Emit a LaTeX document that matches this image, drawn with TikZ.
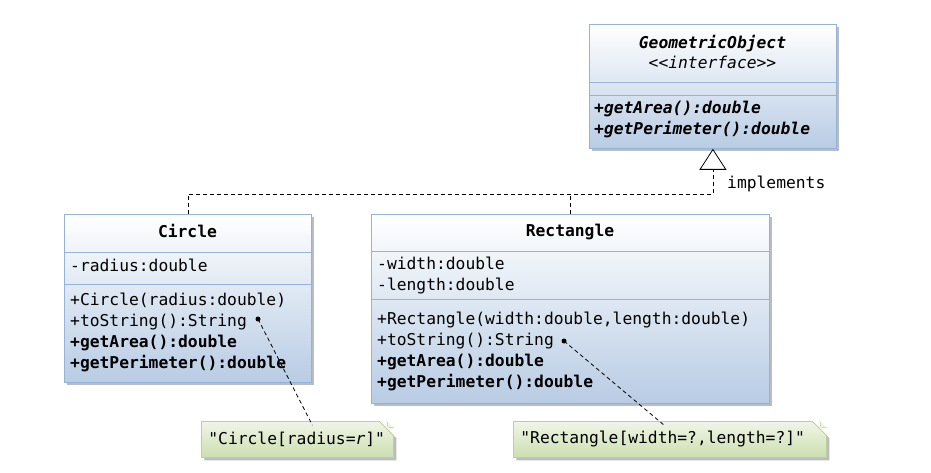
\documentclass[tikz,border=0pt]{standalone}
\usepackage{fontspec}
\setmonofont{DejaVu Sans Mono}
\usepackage{tikz}
\usetikzlibrary{arrows.meta,calc,positioning,shadows,shapes.misc}
\definecolor{umlborder}{RGB}{149,179,215}
\definecolor{umlblue}{RGB}{184,204,228}
\definecolor{umlshadow}{RGB}{168,172,180}
\definecolor{notetop}{RGB}{240,245,230}
\definecolor{notebottom}{RGB}{205,222,176}
\definecolor{noteborder}{RGB}{190,208,150}
\def\UMLFont{\ttfamily\fontsize{16.3}{21}\selectfont}
\tikzset{
  classbox/.style={draw=umlborder, line width=0.8pt, top color=white,
    bottom color=umlblue, anchor=north west, inner sep=0pt,
    drop shadow={shadow xshift=3pt, shadow yshift=-3pt, fill=umlshadow, opacity=0.8}},
  sepline/.style={draw=umlborder, line width=0.8pt},
  cname/.style={anchor=base, inner sep=0pt, font=\UMLFont\bfseries},
  member/.style={anchor=base west, inner sep=0pt, font=\UMLFont},
  notebox/.style={chamfered rectangle, chamfered rectangle corners=north east,
    chamfered rectangle xsep=7pt, chamfered rectangle ysep=7pt,
    draw=noteborder, line width=0.8pt, top color=notetop, bottom color=notebottom,
    anchor=north west, inner xsep=0pt, inner ysep=0pt, align=left, font=\UMLFont,
    drop shadow={shadow xshift=3pt, shadow yshift=-3pt, fill=umlshadow, opacity=0.8}},
  realize/.style={line width=0.8pt, dash pattern=on 4pt off 3pt},
  notelink/.style={line width=0.8pt, dash pattern=on 4pt off 3pt},
}

\begin{document}
\begin{tikzpicture}[x=1pt, y=-1pt]
  \useasboundingbox[fill=white] (0,0) rectangle (931,473);

  % interface
  \node[classbox, minimum width=247pt, minimum height=124pt] (geomobj) at (589,24) {};
  \draw[sepline] ($(geomobj.north west)+(0,58)$) -- ($(geomobj.north east)+(0,58)$);
  \draw[sepline] ($(geomobj.north west)+(0,71)$) -- ($(geomobj.north east)+(0,71)$);
  \node[cname] (geomname) at (712.5,48.5) {\itshape GeometricObject};
  \node[cname, font=\UMLFont\itshape] (geomstereo) at (712.5,69) {<<interface>>};
  \node[member, font=\UMLFont\bfseries\itshape] (geomarea) at (594,114) {+getArea():double};
  \node[member, font=\UMLFont\bfseries\itshape] (geomperim) at (594,135) {+getPerimeter():double};

  % Circle
  \node[classbox, minimum width=247pt, minimum height=168pt] (circle) at (64,214) {};
  \draw[sepline] ($(circle.north west)+(0,38)$) -- ($(circle.north east)+(0,38)$);
  \draw[sepline] ($(circle.north west)+(0,70)$) -- ($(circle.north east)+(0,70)$);
  \node[cname] (circname) at (187.5,237) {Circle};
  \node[member] (circradius) at (70,271) {-radius:double};
  \node[member] (circctor) at (70,305.5) {+Circle(radius:double)};
  \node[member] (circtostr) at (70,326.5) {+toString():String};
  \node[member, font=\UMLFont\bfseries] (circarea) at (70,347) {+getArea():double};
  \node[member, font=\UMLFont\bfseries] (circperim) at (70,368) {+getPerimeter():double};

  % Rectangle
  \node[classbox, minimum width=398pt, minimum height=189pt] (rect) at (371,214) {};
  \draw[sepline] ($(rect.north west)+(0,37)$) -- ($(rect.north east)+(0,37)$);
  \draw[sepline] ($(rect.north west)+(0,85)$) -- ($(rect.north east)+(0,85)$);
  \node[cname] (rectname) at (570,236) {Rectangle};
  \node[member] (rectwidth) at (377,269.5) {-width:double};
  \node[member] (rectlength) at (377,290.5) {-length:double};
  \node[member] (rectctor) at (377,324) {+Rectangle(width:double,length:double)};
  \node[member] (recttostr) at (377,345) {+toString():String};
  \node[member, font=\UMLFont\bfseries] (rectarea) at (377,366) {+getArea():double};
  \node[member, font=\UMLFont\bfseries] (rectperim) at (377,387) {+getPerimeter():double};

  % implements
  \coordinate (hline) at (400,194);
  \draw[realize, -{Triangle[open, width=27pt, length=21pt, line width=0.8pt]}]
    (circle.north) -- (circle.north |- hline) -| (geomobj.south);
  \draw[realize] (rect.north) -- (rect.north |- hline);
  \node[member] (impl) at (727,188.5) {implements};

  % notes
  \node[notebox, minimum width=192pt, minimum height=36pt, text width=178pt] (circnote) at (201,421)
    {"Circle[radius=\textit{r}]"};
  \node[notebox, minimum width=313pt, minimum height=36pt, text width=299pt] (rectnote) at (513,421)
    {"Rectangle[width=?,length=?]"};
  \draw[noteborder, fill=notetop, line width=0.6pt] ($(circnote.north -| circnote.east)+(-7,0)$)
    -- ($(circnote.north -| circnote.east)+(-6,6)$) -- ($(circnote.north -| circnote.east)+(0,7)$);
  \draw[noteborder, fill=notetop, line width=0.6pt] ($(rectnote.north -| rectnote.east)+(-7,0)$)
    -- ($(rectnote.north -| rectnote.east)+(-6,6)$) -- ($(rectnote.north -| rectnote.east)+(0,7)$);

  \coordinate (circdot) at (258,319);
  \coordinate (rectdot) at (564,341);
  \fill (circdot) circle (2.5pt);
  \fill (rectdot) circle (2.5pt);
  \draw[notelink] (circdot) -- ($(circnote.north west)!0.6!(circnote.north east)$);
  \draw[notelink] (rectdot) -- ($(rectnote.north west)!0.49!(rectnote.north east)$);
\end{tikzpicture}
\end{document}
